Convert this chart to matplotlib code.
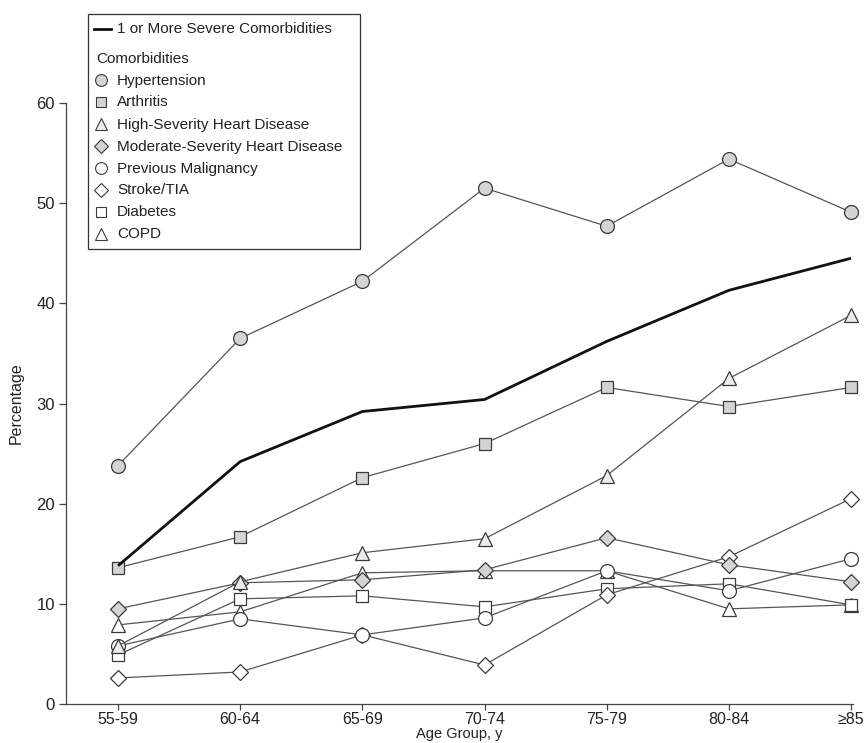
"""
Comorbidity prevalence by age group
"""

import matplotlib
matplotlib.use('Agg')
import matplotlib.pyplot as plt
from matplotlib.lines import Line2D
from matplotlib.patches import Rectangle

plt.rcParams['font.family'] = ['Liberation Sans', 'DejaVu Sans']

age_groups = ['55-59', '60-64', '65-69', '70-74', '75-79', '80-84', '≥85']

severe_any = [13.8, 24.2, 29.2, 30.4, 36.2, 41.3, 44.5]
hypertension = [23.8, 36.5, 42.2, 51.5, 47.7, 54.4, 49.1]
arthritis = [13.6, 16.7, 22.6, 26.0, 31.6, 29.7, 31.6]
high_heart = [5.8, 12.2, 15.1, 16.5, 22.8, 32.5, 38.8]
moderate_heart = [9.5, 12.1, 12.4, 13.4, 16.6, 13.9, 12.2]
malignancy = [5.8, 8.5, 6.9, 8.6, 13.3, 11.3, 14.5]
stroke_tia = [2.6, 3.2, 6.9, 3.9, 10.9, 14.7, 20.5]
diabetes = [4.9, 10.5, 10.8, 9.7, 11.5, 12.0, 9.9]
copd = [7.9, 9.2, 13.1, 13.3, 13.3, 9.5, 9.9]

series_labels = ['Hypertension', 'Arthritis', 'High-Severity Heart Disease',
                 'Moderate-Severity Heart Disease', 'Previous Malignancy',
                 'Stroke/TIA', 'Diabetes', 'COPD']

LINE = '#555555'
EDGE = '#3a3a3a'
GRAY = '#d4d4d4'
WHITE = 'white'
TEXT = '#222222'

# (values, marker, face, marker size)
styles = [
    (hypertension, 'o', GRAY, 10),
    (arthritis, 's', GRAY, 9),
    (high_heart, '^', '#ececec', 10.5),
    (moderate_heart, 'D', GRAY, 8),
    (malignancy, 'o', WHITE, 10),
    (stroke_tia, 'D', WHITE, 8),
    (diabetes, 's', WHITE, 9),
    (copd, '^', WHITE, 10.5),
]

W, H = 865, 743
fig = plt.figure(figsize=(W / 100, H / 100), dpi=100)
ax = fig.add_axes([66 / W, 1 - 704 / H, (853 - 66) / W, (704 - 103) / H])

x = list(range(len(age_groups)))

# draw from the back so the top series sit over the crowded lower cluster
for vals, mk, face, ms in reversed(styles):
    ax.plot(x, vals, color=LINE, lw=0.9, marker=mk, markersize=ms,
            markerfacecolor=face, markeredgecolor=EDGE, markeredgewidth=0.9,
            zorder=3, clip_on=False)
ax.plot(x, severe_any, color='#111111', lw=2.0, zorder=4, solid_capstyle='butt')

ax.set_xlim(-0.426, 6.016)
ax.set_ylim(0, 60)
ax.set_xticks(x)
ax.set_xticklabels(age_groups)
ax.set_yticks(range(0, 61, 10))

for side in ('top', 'right'):
    ax.spines[side].set_visible(False)
for side in ('left', 'bottom'):
    ax.spines[side].set_color('#444444')
    ax.spines[side].set_linewidth(0.9)
ax.tick_params(axis='both', direction='out', length=5, width=0.9,
               color='#444444', labelsize=12, labelcolor=TEXT, pad=3)
ax.tick_params(axis='x', length=4, pad=1.5, labelsize=11.5)

ax.set_ylabel('Percentage', fontsize=11.5, color=TEXT, labelpad=9)
ax.set_xlabel('Age Group, y', fontsize=10.5, color=TEXT, labelpad=0)

# legend box, laid out in pixel units
lg = fig.add_axes([87 / W, 1 - 250 / H, (362 - 87) / W, (250 - 13) / H])
lg.set_xlim(87, 362)
lg.set_ylim(250, 13)
lg.axis('off')
lg.add_patch(Rectangle((87.5, 13.5), 272, 236, fill=False,
                       edgecolor='#333333', lw=0.9, clip_on=False))

lg.add_line(Line2D([94, 111], [29, 29], color='#111111', lw=2.0))
lg.text(117, 29, '1 or More Severe Comorbidities', fontsize=11,
        va='center', ha='left', color=TEXT)
lg.text(96, 59, 'Comorbidities', fontsize=11, va='center', ha='left',
        color=TEXT)

row0, step = 80.5, 22
for i, (label, (_, mk, face, ms)) in enumerate(zip(series_labels, styles)):
    y = row0 + i * step
    lg.plot([101], [y], marker=mk, markersize=ms * 0.85, markerfacecolor=face,
            markeredgecolor=EDGE, markeredgewidth=0.8, linestyle='none')
    lg.text(117, y, label, fontsize=11, va='center', ha='left', color=TEXT)

fig.savefig('out.png', dpi=100)
